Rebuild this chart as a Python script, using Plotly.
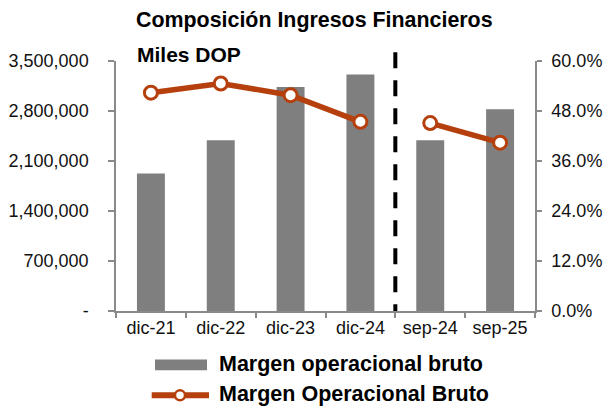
import plotly.graph_objects as go

# ---- data ----
periods = ["dic-21", "dic-22", "dic-23", "dic-24", "sep-24", "sep-25"]
ingresos = [1924000, 2390000, 3136000, 3310000, 2390000, 2824000]
margen = [0.524, 0.546, 0.518, 0.454, 0.451, 0.404]
segment = [0, 0, 0, 0, 1, 1]  # annual vs. interim periods (line is broken between them)

left_tickvals = [0, 700000, 1400000, 2100000, 2800000, 3500000]
left_ticktext = ["-", "700,000", "1,400,000", "2,100,000", "2,800,000", "3,500,000"]
right_tickvals = [0, 0.12, 0.24, 0.36, 0.48, 0.60]

title_text = "Composición Ingresos Financieros"
unit_text = "Miles DOP"
bar_name = "Margen operacional bruto"
line_name = "Margen Operacional Bruto"

BAR_COLOR = "#7F7F7F"
LINE_COLOR = "#B5400E"
AXIS_COLOR = "#8A8A8A"
FONT = "Liberation Sans, Arial, sans-serif"

fig = go.Figure()

fig.add_trace(go.Bar(
    x=periods, y=ingresos, name=bar_name, width=0.4,
    marker=dict(color=BAR_COLOR, line=dict(width=0)),
    yaxis="y", showlegend=False,
))

for seg in sorted(set(segment)):
    xs = [p for p, s in zip(periods, segment) if s == seg]
    ys = [v for v, s in zip(margen, segment) if s == seg]
    fig.add_trace(go.Scatter(
        x=xs, y=ys, name=line_name, yaxis="y2", mode="lines+markers",
        line=dict(color=LINE_COLOR, width=5.5),
        marker=dict(size=13, color="white", line=dict(color=LINE_COLOR, width=3)),
        showlegend=False,
    ))

# dashed separator between annual and interim periods
fig.add_shape(type="line", xref="x", yref="paper", x0=3.5, x1=3.5, y0=1.035, y1=0,
              line=dict(color="black", width=4, dash="16px,12px"))

# title and unit
fig.add_annotation(text=f"<b>{title_text}</b>", xref="paper", yref="paper",
                   x=0.4726, y=1.166, xanchor="center", yanchor="middle",
                   showarrow=False, font=dict(size=21.4, color="black", family=FONT))
fig.add_annotation(text=f"<b>{unit_text}</b>", xref="paper", yref="paper",
                   x=0.045, y=1.024, xanchor="left", yanchor="middle",
                   showarrow=False, font=dict(size=21, color="black", family=FONT))

# manual legend
fig.add_shape(type="rect", xref="paper", yref="paper", x0=0.0931, x1=0.2172,
              y0=-0.2372, y1=-0.1944, line=dict(width=0), fillcolor=BAR_COLOR)
fig.add_annotation(text=f"<b>{bar_name}</b>", xref="paper", yref="paper",
                   x=0.2411, y=-0.2105, xanchor="left", yanchor="middle",
                   showarrow=False, font=dict(size=21.5, color="black", family=FONT))
fig.add_shape(type="line", xref="paper", yref="paper", x0=0.0852, x1=0.2220,
              y0=-0.3372, y1=-0.3372, line=dict(color=LINE_COLOR, width=6))
fig.add_shape(type="circle", xref="paper", yref="paper", xsizemode="pixel", ysizemode="pixel",
              xanchor=0.1527, yanchor=-0.3372, x0=-5, x1=5, y0=-5, y1=5,
              line=dict(color=LINE_COLOR, width=2.5), fillcolor="white")
fig.add_annotation(text=f"<b>{line_name}</b>", xref="paper", yref="paper",
                   x=0.2411, y=-0.3336, xanchor="left", yanchor="middle",
                   showarrow=False, font=dict(size=21.5, color="black", family=FONT))

fig.update_layout(
    width=603, height=409,
    margin=dict(l=116, r=68, t=61, b=98, pad=0, autoexpand=False),
    paper_bgcolor="white", plot_bgcolor="white",
    font=dict(family=FONT, size=18, color="#111111"),
    showlegend=False,
    bargap=0.6,
    xaxis=dict(
        type="category", range=[-0.5, 5.5], tickson="boundaries", automargin=False,
        ticks="outside", ticklen=5, tickcolor=AXIS_COLOR, tickwidth=1.5,
        showline=True, linecolor=AXIS_COLOR, linewidth=1.5,
        showgrid=False, zeroline=False, tickfont=dict(size=18),
    ),
    yaxis=dict(
        range=[0, 3500000], tickvals=left_tickvals, ticktext=left_ticktext, automargin=False,
        ticks="outside", ticklen=6, tickcolor=AXIS_COLOR, tickwidth=1.5,
        showline=True, linecolor=AXIS_COLOR, linewidth=1.5,
        showgrid=False, zeroline=False, tickfont=dict(size=18),
        ticklabelstandoff=16,
    ),
    yaxis2=dict(
        range=[0, 0.6], tickvals=right_tickvals, tickformat=".1%", automargin=False,
        overlaying="y", side="right",
        ticks="outside", ticklen=5, tickcolor=AXIS_COLOR, tickwidth=1.5,
        showline=True, linecolor=AXIS_COLOR, linewidth=1.5,
        showgrid=False, zeroline=False, tickfont=dict(size=18),
        ticklabelstandoff=6,
    ),
)

fig.write_html("out.html", config={"displayModeBar": False},
               post_script="document.body.style.margin='0';document.body.style.overflow='hidden';")
